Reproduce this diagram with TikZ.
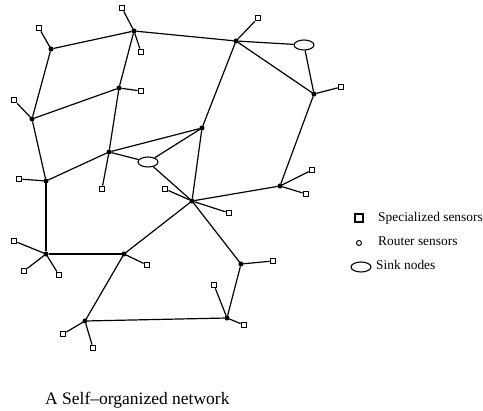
\documentclass[tikz,border=0pt]{standalone}
\usepackage{fontspec}
\setmainfont{Liberation Serif}
\usetikzlibrary{shapes.geometric}
\begin{document}
\begin{tikzpicture}[x=1pt,y=-1pt,
  router/.style={circle,draw,fill=black,line width=0.8pt,inner sep=0pt,minimum size=4.2pt},
  spec/.style={rectangle,draw,line width=1.3pt,fill=white,inner sep=0pt,minimum size=5.5pt},
  sink/.style={ellipse,draw,line width=1.1pt,inner sep=0pt,minimum width=20pt,minimum height=10pt},
  link/.style={line width=1.2pt},
  legtext/.style={font=\fontsize{13.4}{15}\selectfont,anchor=mid west,inner sep=0pt}]
\useasboundingbox (0,0) rectangle (483,411);
% routers
\node[router] (r1) at (51,49) {};
\node[router] (r2) at (134,31) {};
\node[router] (r3) at (119,88) {};
\node[router] (r4) at (32,119) {};
\node[router] (r5) at (236,41) {};
\node[router] (r6) at (314,94) {};
\node[router] (r7) at (202,128) {};
\node[router] (r8) at (109,152) {};
\node[router] (r9) at (46,181) {};
\node[router] (r10) at (192,201) {};
\node[router] (r11) at (280,186) {};
\node[router] (r12) at (241,264) {};
\node[router] (r13) at (46,254) {};
\node[router] (r14) at (124,254) {};
\node[router] (r15) at (85,321) {};
\node[router] (r16) at (227,318) {};
% sinks
\node[sink] (s1) at (304,45) {};
\node[sink] (s2) at (148,162) {};
% specialized
\node[spec] (p1) at (39,28) {};
\node[spec] (p2) at (122,8) {};
\node[spec] (p3) at (141,52) {};
\node[spec] (p4) at (141,91) {};
\node[spec] (p5) at (14,100) {};
\node[spec] (p6) at (258,18) {};
\node[spec] (p7) at (341,87) {};
\node[spec] (p8) at (102,189) {};
\node[spec] (p9) at (19,179) {};
\node[spec] (p10) at (165,189) {};
\node[spec] (p11) at (229,213) {};
\node[spec] (p12) at (312,170) {};
\node[spec] (p13) at (306,194) {};
\node[spec] (p14) at (273,261) {};
\node[spec] (p15) at (14,241) {};
\node[spec] (p16) at (24,271) {};
\node[spec] (p17) at (59,275) {};
\node[spec] (p18) at (147,265) {};
\node[spec] (p19) at (63,334) {};
\node[spec] (p20) at (93,348) {};
\node[spec] (p21) at (214,285) {};
\node[spec] (p22) at (244,325) {};
% links
\draw[link] (r1) -- (r2);
\draw[link] (r1) -- (r4);
\draw[link] (r1) -- (p1);
\draw[link] (r2) -- (p2);
\draw[link] (r2) -- (p3);
\draw[link] (r2) -- (r5);
\draw[link] (r2) -- (r3);
\draw[link] (r3) -- (p4);
\draw[link] (r3) -- (r4);
\draw[link] (r3) -- (r8);
\draw[link] (r4) -- (p5);
\draw[link] (r4) -- (r9);
\draw[link] (r5) -- (p6);
\draw[link] (r5) -- (s1);
\draw[link] (r5) -- (r6);
\draw[link] (r5) -- (r7);
\draw[link] (s1) -- (r6);
\draw[link] (r6) -- (p7);
\draw[link] (r6) -- (r11);
\draw[link] (r7) -- (r8);
\draw[link] (r7) -- (s2);
\draw[link] (r7) -- (r10);
\draw[link] (r8) -- (s2);
\draw[link] (r8) -- (r9);
\draw[link] (r8) -- (p8);
\draw[link] (s2) -- (r10);
\draw[link] (r9) -- (p9);
\draw[link] (r9) -- (r13);
\draw[link] (r10) -- (p10);
\draw[link] (r10) -- (p11);
\draw[link] (r10) -- (r11);
\draw[link] (r10) -- (r12);
\draw[link] (r10) -- (r14);
\draw[link] (r11) -- (p12);
\draw[link] (r11) -- (p13);
\draw[link] (r12) -- (p14);
\draw[link] (r12) -- (r16);
\draw[link] (r13) -- (p15);
\draw[link] (r13) -- (p16);
\draw[link] (r13) -- (p17);
\draw[link] (r13) -- (r14);
\draw[link] (r14) -- (p18);
\draw[link] (r14) -- (r15);
\draw[link] (r15) -- (p19);
\draw[link] (r15) -- (p20);
\draw[link] (r15) -- (r16);
\draw[link] (r16) -- (p21);
\draw[link] (r16) -- (p22);
% legend
\node[rectangle,draw,line width=2.2pt,inner sep=0pt,minimum size=7.5pt] (lspec) at (359,218) {};
\node[circle,draw,line width=1pt,inner sep=0pt,minimum size=5pt] (lrout) at (359,243) {};
\node[sink] (lsink) at (361,267) {};
\node[legtext] (tspec) at (378,219) {Specialized sensors};
\node[legtext] (trout) at (378,243) {Router sensors};
\node[legtext] (tsink) at (376,267) {Sink nodes};
% caption
\node[font=\fontsize{17.5}{20}\selectfont,anchor=base west,inner sep=0pt] (cap) at (45,405) {A Self–organized network};
\end{tikzpicture}
\end{document}
